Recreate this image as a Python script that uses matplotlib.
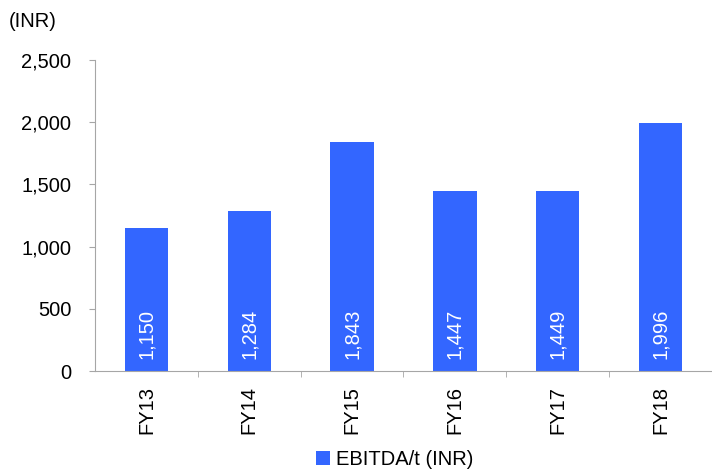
import matplotlib
matplotlib.use("Agg")
import matplotlib.pyplot as plt
from matplotlib.ticker import FuncFormatter, FixedLocator

plt.rcParams["font.family"] = ["Liberation Sans", "DejaVu Sans"]

categories = ["FY13", "FY14", "FY15", "FY16", "FY17", "FY18"]
ebitda_per_t = [1150, 1284, 1843, 1447, 1449, 1996]
bar_labels = ["1,150", "1,284", "1,843", "1,447", "1,449", "1,996"]

blue = "#3366ff"
grey = "#a6a6a6"
fs = 14.5

fig = plt.figure(figsize=(7.12, 4.70), dpi=100)
ax = fig.add_axes([0.1334, 0.2106, 0.8666, 0.6617])

x = list(range(len(categories)))
bars = ax.bar(x, ebitda_per_t, width=0.42, color=blue, label="EBITDA/t (INR)")

for xi, lab in zip(x, bar_labels):
    ax.text(xi, 100, lab, rotation=90, ha="center", va="bottom",
            color="white", fontsize=fs)

ax.set_xlim(-0.5, len(categories) - 0.5)
ax.set_ylim(0, 2500)
ax.set_yticks(range(0, 2501, 500))
ax.yaxis.set_major_formatter(FuncFormatter(lambda v, p: f"{int(v):,}"))

ax.set_xticks(x)
ax.set_xticklabels(categories, rotation=90, fontsize=fs)
ax.xaxis.set_minor_locator(FixedLocator([i + 0.5 for i in x[:-1]]))
ax.tick_params(axis="x", which="major", length=0, pad=11)
ax.tick_params(axis="x", which="minor", length=4, color=grey, direction="out")
ax.tick_params(axis="y", length=4, color=grey, labelsize=fs, pad=13)

for side in ("top", "right"):
    ax.spines[side].set_visible(False)
for side in ("left", "bottom"):
    ax.spines[side].set_color(grey)

fig.text(0.012, 0.955, "(INR)", fontsize=fs, ha="left", va="center")

fig.legend(handles=[bars], labels=["EBITDA/t (INR)"], loc="center",
           bbox_to_anchor=(0.554, 0.022), frameon=False, fontsize=fs,
           handlelength=0.7, handleheight=0.7, handletextpad=0.3,
           borderpad=0, borderaxespad=0)

fig.savefig("out.png", dpi=100, facecolor="white")
